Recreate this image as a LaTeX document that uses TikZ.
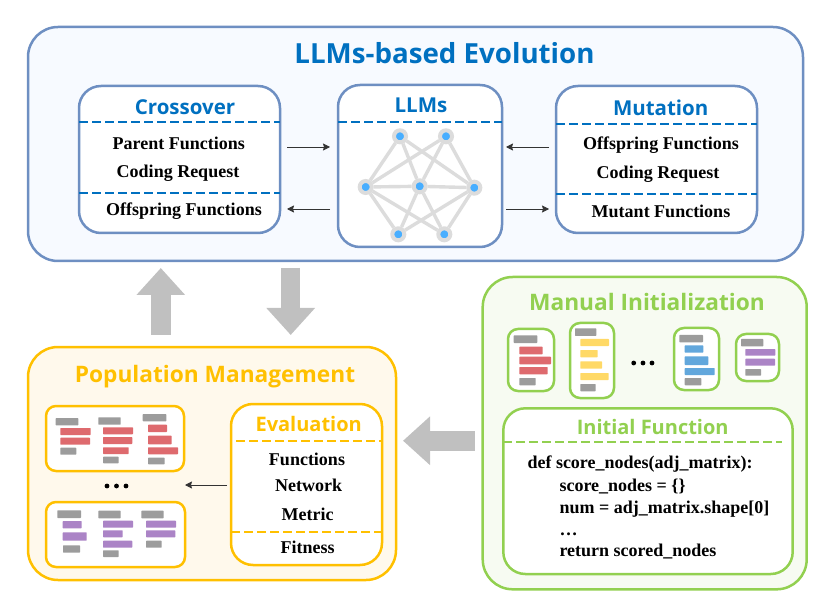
\documentclass[tikz,border=0pt]{standalone}
\usepackage{fontspec}
\setmainfont{Liberation Serif}
\newfontfamily\titlefont{Open Sans}
\usetikzlibrary{arrows.meta, positioning}

\definecolor{evoblue}{HTML}{0070C0}
\definecolor{evoedge}{HTML}{6E8FC2}
\definecolor{evofill}{HTML}{F7FAFF}
\definecolor{popgold}{HTML}{FFC000}
\definecolor{popfill}{HTML}{FFF9EC}
\definecolor{mangreen}{HTML}{92D050}
\definecolor{manfill}{HTML}{F7FBF2}
\definecolor{barred}{HTML}{DE6A6E}
\definecolor{baryellow}{HTML}{FFD966}
\definecolor{barblue}{HTML}{62A7DC}
\definecolor{barpurple}{HTML}{AB84C6}
\definecolor{bargray}{HTML}{9C9C9C}
\definecolor{netgray}{HTML}{DCDCDC}
\definecolor{netblue}{HTML}{48AEFF}
\definecolor{biggray}{HTML}{C0C0C0}

\tikzstyle{panel} = [
	rectangle,
	rounded corners=30pt,
	line width=2.5pt,
	outer sep=0pt
]
\tikzstyle{evopanel} = [panel, draw=evoedge, fill=evofill]
\tikzstyle{poppanel} = [panel, draw=popgold, fill=popfill]
\tikzstyle{manpanel} = [panel, draw=mangreen, fill=manfill]
\tikzstyle{opbox} = [panel, rounded corners=22pt, fill=white]
\tikzstyle{funcbox} = [panel, rounded corners=10pt, fill=white]
\tikzstyle{heading} = [anchor=base, inner sep=0pt, yshift=-1pt, font=\titlefont\bfseries\fontsize{20.5}{20.5}\selectfont]
\tikzstyle{subheading} = [heading, font=\titlefont\bfseries\fontsize{20}{20}\selectfont]
\tikzstyle{panelheading} = [heading, font=\titlefont\bfseries\fontsize{22.7}{22.7}\selectfont]
\tikzstyle{bigheading} = [heading, font=\titlefont\bfseries\fontsize{27.7}{27.7}\selectfont]
\tikzstyle{bodytext} = [anchor=base, inner sep=0pt, yshift=-1pt, font=\bfseries\fontsize{18}{18}\selectfont]
\tikzstyle{codetext} = [bodytext, anchor=base west]
\tikzstyle{netnode} = [circle, minimum size=12pt, inner sep=0pt, line width=4pt, draw=netgray, fill=netblue]
\tikzstyle{netedge} = [line width=3.4pt, netgray]
\tikzstyle{divider} = [line width=2pt, dash pattern=on 8.5pt off 4.5pt]
\tikzstyle{arrow} = [line width=0.8pt, black!80, -{Stealth[length=7pt,width=7pt,inset=1pt]}]
\tikzstyle{bigarrow} = [line width=19.5pt, biggray, -{Triangle[length=27pt,width=47pt]}]
\tikzstyle{bar} = [rounded corners=0.6pt]

\newcommand{\codebars}[2]{\foreach \xa/\ya/\xb/\yb in {#2} \fill [bar, #1] (\xa,\ya) rectangle (\xb,\yb);}

\begin{document}
\begin{tikzpicture}[x=1pt, y=-1pt]
	\useasboundingbox (0,0) rectangle (830,612);

	% top panel with the three operators
	\node (evolution) [evopanel, minimum width=775pt, minimum height=234pt] at (415.5,144) {};
	\node (evotitle) [bigheading, text=evoblue] at (444.5,62.7) {LLMs-based Evolution};

	\node (crossover) [opbox, draw=evoedge, minimum width=201pt, minimum height=147pt] at (179.5,159.5) {};
	\node (llms) [opbox, draw=evoedge, minimum width=164pt, minimum height=162pt] at (420,166) {};
	\node (mutation) [opbox, draw=evoedge, minimum width=201pt, minimum height=147pt] at (656.5,159.5) {};

	\node (crosstitle) [heading, text=evoblue] at (185,114) {Crossover};
	\node (llmstitle) [heading, text=evoblue] at (421,111.7) {LLMs};
	\node (muttitle) [heading, text=evoblue] at (660.7,115) {Mutation};

	\draw [divider, evoblue] ([yshift=-36pt]crossover.north west) -- ([yshift=-36pt]crossover.north east);
	\draw [divider, evoblue] ([yshift=-107pt]crossover.north west) -- ([yshift=-107pt]crossover.north east);
	\draw [divider, evoblue] ([yshift=-37pt]llms.north west) -- ([yshift=-37pt]llms.north east);
	\draw [divider, evoblue] ([yshift=-38pt]mutation.north west) -- ([yshift=-38pt]mutation.north east);
	\draw [divider, evoblue] ([yshift=-108pt]mutation.north west) -- ([yshift=-108pt]mutation.north east);

	\node (crossparent) [bodytext] at (178.7,149) {Parent Functions};
	\node (crosscoding) [bodytext] at (178,176.7) {Coding Request};
	\node (crossoff) [bodytext] at (184,215) {Offspring Functions};
	\node (mutoff) [bodytext] at (661,149) {Offspring Functions};
	\node (mutcoding) [bodytext] at (658,177.7) {Coding Request};
	\node (mutmutant) [bodytext] at (661,217) {Mutant Functions};

	% network inside the LLMs box
	\node (ntl) [netnode] at (400,136.3) {};
	\node (ntr) [netnode] at (446,136.3) {};
	\node (nl) [netnode] at (365.7,187) {};
	\node (nc) [netnode] at (419.7,186.3) {};
	\node (nr) [netnode] at (474.3,187.7) {};
	\node (nbl) [netnode] at (398.3,234.3) {};
	\node (nbr) [netnode] at (444.3,234.3) {};
	\foreach \from/\to in {ntl/nl, ntl/nc, ntl/nr, ntr/nl, ntr/nc, ntr/nr, nl/nc, nc/nr, nl/nbl, nl/nbr, nc/nbl, nc/nbr, nr/nbl, nr/nbr}
		\draw [netedge] (\from) -- (\to);

	% arrows between the operators and the LLMs
	\draw [arrow, shorten <=7pt, shorten >=8pt] ([yshift=12.5pt]crossover.east) -- ([yshift=12.5pt]crossover.east -| llms.west);
	\draw [arrow, shorten <=8pt, shorten >=7pt] ([yshift=-49.5pt]crossover.east -| llms.west) -- ([yshift=-49.5pt]crossover.east);
	\draw [arrow, shorten <=7pt, shorten >=4pt] ([yshift=12.5pt]mutation.west) -- ([yshift=12.5pt]mutation.west -| llms.east);
	\draw [arrow, shorten <=4pt, shorten >=7pt] ([yshift=-49.5pt]mutation.west -| llms.east) -- ([yshift=-49.5pt]mutation.west);

	% population panel
	\node (population) [poppanel, minimum width=368pt, minimum height=233pt] at (212,463.5) {};
	\node (poptitle) [panelheading, text=popgold] at (215,381.7) {Population Management};
	\node (evaluation) [opbox, draw=popgold, minimum width=151pt, minimum height=161pt] at (306.5,484.5) {};
	\node (evaltitle) [subheading, text=popgold] at (308.7,430.7) {Evaluation};
	\draw [divider, popgold] ([xshift=5pt,yshift=-37pt]evaluation.north west) -- ([yshift=-37pt]evaluation.north east);
	\draw [divider, popgold] ([yshift=-128pt]evaluation.north west) -- ([yshift=-128pt]evaluation.north east);
	\node (evalfunc) [bodytext] at (307,464) {Functions};
	\node (evalnet) [bodytext] at (308.7,490) {Network};
	\node (evalmetric) [bodytext] at (307.7,519.3) {Metric};
	\node (evalfit) [bodytext] at (307.7,552) {Fitness};

	\node (popbest) [funcbox, draw=popgold, minimum width=138pt, minimum height=65pt] at (115,438.5) {};
	\node (popworst) [funcbox, draw=popgold, minimum width=139pt, minimum height=65pt] at (115.5,534.5) {};
	\codebars{bargray}{55.7/418/78.3/425.3, 60.3/447.7/76.3/454.7, 98.3/417.3/120.7/424.7, 103/456.7/118.7/463.3, 142.7/414/166.3/421.3, 148/457.7/164.7/464.3}
	\codebars{barred}{60.3/428/90.7/435, 60.3/437.7/90/444.7, 103/427.3/133/434.3, 103/437/132.3/444, 103/447.3/128.7/454, 148/424.7/167/432, 148/435.7/171.7/444.3, 148/447.3/178/454.3}
	\codebars{bargray}{57.3/510.3/81/518, 63/545.3/80/552.7, 98.3/510.7/120.7/518.3, 103/550.3/118.7/557, 141.3/510.7/163.7/518.3, 146/540.7/161.7/547.7}
	\codebars{barpurple}{62.7/521/81.7/528.3, 62.7/532.3/86.7/540.7, 103/520.7/133/527.7, 103/530.3/122.7/537.3, 103/540.7/132.3/547.7, 146/520.7/176/527.7, 146/530.3/175.3/537.3}
	\foreach \x in {107,116.5,126}
		\fill [black] (\x,486) circle (2.4pt);
	\draw [arrow, shorten <=4pt, shorten >=1pt] ([yshift=-0.5pt]evaluation.west) -- ([yshift=-0.5pt]evaluation.west -| popbest.east);

	% manual initialization panel
	\node (manual) [manpanel, minimum width=324pt, minimum height=312.3pt] at (644.7,433.15) {};
	\node (mantitle) [panelheading, text=mangreen] at (647,309.3) {Manual Initialization};
	\node (funcred) [funcbox, draw=mangreen, minimum width=46pt, minimum height=62pt] at (531,360) {};
	\node (funcyellow) [funcbox, draw=mangreen, minimum width=44pt, minimum height=75pt] at (592,360.5) {};
	\node (funcblue) [funcbox, draw=mangreen, minimum width=45pt, minimum height=62pt] at (696.5,359) {};
	\node (funcpurple) [funcbox, draw=mangreen, minimum width=43pt, minimum height=47pt] at (757.5,357.5) {};
	\codebars{bargray}{513.7/335.3/537.3/343, 519.3/378/535.7/385.3, 575/328.3/596.3/336, 580.3/384/595.7/391.3, 679.3/335/703/342.3, 684.7/378/701.3/385.3, 741/339/763.3/346.3, 745.3/369/761/375.7}
	\codebars{barred}{519.3/346.7/542.7/354.3, 519.3/356.7/551/364.3, 519.3/367/547.7/374.3}
	\codebars{baryellow}{580.3/339/609/346, 580.3/350/597.7/357.3, 580.3/361.3/602/368.7, 580.3/373/608.7/380}
	\codebars{barblue}{684.7/345.3/703.3/352.7, 684.7/356.3/708.3/365, 684.7/368/714.7/375}
	\codebars{barpurple}{745.3/349/775.3/355.7, 745.3/358.7/775/365.7}
	\foreach \x in {633.7,643,652}
		\fill [black] (\x,363) circle (2.4pt);

	\node (initial) [opbox, draw=mangreen, minimum width=289.4pt, minimum height=165.7pt] at (648,491.15) {};
	\node (inittitle) [subheading, text=mangreen] at (652.7,433.3) {Initial Function};
	\draw [divider, mangreen] ([yshift=-33.7pt]initial.north west) -- ([xshift=-11pt,yshift=-33.7pt]initial.north east);
	\node (codedef) [codetext] at (527.3,467.7) {def score\_nodes(adj\_matrix):};
	\node (codescore) [codetext] at (559.3,490) {score\_nodes = \{\}};
	\node (codenum) [codetext] at (559.3,512.3) {num = adj\_matrix.shape[0]};
	\node (codedots) [codetext] at (559.3,534) {\dots};
	\node (coderet) [codetext] at (559.3,555) {return scored\_nodes};

	% flow between the panels
	\draw [bigarrow, shorten <=12pt, shorten >=7pt] ([xshift=-51.2pt]population.north) -- ([xshift=-51.2pt]population.north |- evolution.south);
	\draw [bigarrow, shorten <=7pt, shorten >=12pt] ([xshift=78.7pt]population.north |- evolution.south) -- ([xshift=78.7pt]population.north);
	\draw [bigarrow, shorten <=8pt, shorten >=7pt] ([yshift=-7.6pt]manual.west) -- ([yshift=-7.6pt]manual.west -| population.east);
\end{tikzpicture}
\end{document}
